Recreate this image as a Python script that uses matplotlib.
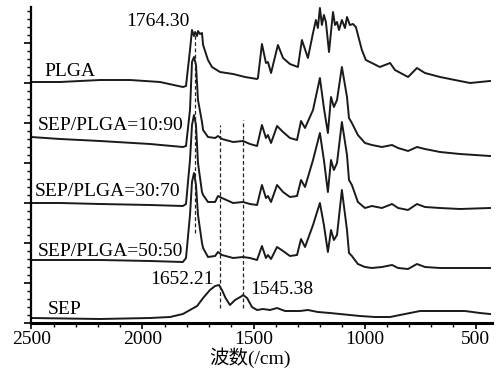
import numpy as np
import matplotlib.pyplot as plt
from matplotlib.ticker import MultipleLocator

plt.rcParams['font.family'] = ['Liberation Serif', 'Noto Sans CJK SC']

# 读取的光谱数据 (波数, 相对强度)
wn_plga = [2502, 2371, 2191, 2056, 1921, 1818, 1804, 1786, 1777, 1768, 1763, 1754, 1750, 1741,
           1732, 1727, 1705, 1687, 1651, 1592, 1538, 1484, 1480, 1462, 1444, 1435, 1421, 1399,
           1390, 1367, 1336, 1300, 1282, 1255, 1232, 1219, 1210, 1201, 1192, 1183, 1174, 1160,
           1142, 1133, 1124, 1115, 1102, 1088, 1079, 1066, 1052, 1039, 1012, 994, 967, 931,
           885, 863, 804, 764, 728, 660, 593, 525, 435]
ab_plga = [241, 241, 243, 243, 241, 236, 237, 273, 293, 287, 291, 287, 292, 289,
           290, 278, 263, 256, 251, 249, 246, 244, 245, 279, 260, 261, 250, 270,
           278, 265, 259, 256, 283, 265, 290, 303, 295, 315, 298, 308, 301, 271,
           311, 298, 301, 293, 303, 295, 306, 298, 299, 296, 273, 263, 260, 256,
           260, 253, 246, 255, 250, 246, 243, 240, 242]

wn_blend = [2502, 2371, 2191, 1966, 1818, 1804, 1786, 1777, 1768, 1759, 1750, 1732, 1727, 1705,
            1673, 1660, 1642, 1592, 1547, 1516, 1484, 1462, 1444, 1435, 1421, 1394, 1367, 1336,
            1304, 1286, 1268, 1232, 1201, 1183, 1165, 1151, 1138, 1124, 1102, 1079, 1070, 1057,
            1030, 998, 967, 922, 876, 849, 804, 764, 728, 660, 570, 435]
ab_10_90 = [186, 184, 182, 179, 176, 177, 213, 261, 266, 258, 223, 201, 193, 186,
            185, 187, 184, 181, 182, 179, 177, 198, 185, 188, 180, 197, 191, 185,
            183, 202, 195, 213, 245, 215, 190, 226, 216, 223, 256, 226, 205, 200,
            188, 180, 178, 176, 178, 175, 172, 176, 174, 171, 169, 167]
ab_30_70 = [120, 120, 119, 118, 117, 119, 163, 198, 208, 198, 160, 131, 128, 121,
            121, 127, 125, 120, 121, 119, 118, 138, 125, 127, 121, 138, 131, 126,
            127, 143, 136, 163, 190, 163, 131, 163, 153, 160, 201, 168, 143, 138,
            121, 115, 117, 115, 119, 115, 113, 119, 116, 115, 114, 115]
ab_50_50 = [63, 63, 63, 62, 61, 65, 108, 141, 150, 138, 108, 80, 75, 66,
            67, 71, 68, 65, 66, 65, 63, 77, 65, 68, 64, 76, 72, 67,
            68, 84, 76, 98, 120, 98, 71, 93, 83, 88, 133, 93, 70, 67,
            59, 56, 55, 56, 58, 55, 54, 59, 56, 55, 55, 55]

wn_sep = [2502, 2191, 1966, 1876, 1818, 1786, 1754, 1727, 1696, 1673, 1655, 1640, 1626, 1606,
          1583, 1552, 1547, 1529, 1507, 1484, 1457, 1426, 1394, 1358, 1291, 1255, 1210, 1156,
          1111, 1021, 953, 885, 840, 795, 750, 692, 615, 548, 480, 435]
ab_sep = [5, 4, 5, 6, 9, 13, 17, 25, 33, 37, 38, 32, 25, 18,
          23, 27, 28, 25, 16, 13, 14, 13, 15, 12, 12, 13, 11, 10,
          9, 7, 6, 6, 8, 10, 12, 12, 12, 12, 10, 9]

peak_marks = [1764.30, 1652.21, 1545.38]
mark_spans = [(90, 290), (15, 198), (15, 203)]

fig = plt.figure(figsize=(4.96, 3.72), dpi=100)
ax = fig.add_axes([31 / 496, 49 / 372, 461 / 496, 316 / 372])

for wn, ab in [(wn_plga, ab_plga), (wn_blend, ab_10_90), (wn_blend, ab_30_70),
               (wn_blend, ab_50_50), (wn_sep, ab_sep)]:
    ax.plot(wn, ab, color='#1a1a1a', lw=1.4, solid_joinstyle='round')

for w, (y0, y1) in zip(peak_marks, mark_spans):
    ax.vlines(w, y0, y1, colors='#222222', linestyles=(0, (3, 2)), lw=0.9)

fs = 14
ax.text(1930, 302, '1764.30', fontsize=fs, ha='center', va='center')
ax.text(2326, 251, 'PLGA', fontsize=fs, ha='center', va='center')
ax.text(2142, 198, 'SEP/PLGA=10:90', fontsize=fs, ha='center', va='center')
ax.text(2155, 131, 'SEP/PLGA=30:70', fontsize=fs, ha='center', va='center')
ax.text(2146, 72, 'SEP/PLGA=50:50', fontsize=fs, ha='center', va='center')
ax.text(1822, 44, '1652.21', fontsize=fs, ha='center', va='center')
ax.text(1372, 33, '1545.38', fontsize=fs, ha='center', va='center')
ax.text(2349, 13, 'SEP', fontsize=fs, ha='center', va='center')

ax.set_xlim(2502, 426)
ax.set_ylim(0, 316)
ax.set_xticks([2500, 2000, 1500, 1000, 500])
ax.xaxis.set_minor_locator(MultipleLocator(100))
ax.yaxis.set_major_locator(MultipleLocator(40))
ax.yaxis.set_minor_locator(MultipleLocator(8))
ax.set_yticklabels([])
ax.spines['top'].set_visible(False)
ax.spines['right'].set_visible(False)
ax.spines['bottom'].set_linewidth(2.2)
ax.spines['left'].set_linewidth(1.6)
ax.tick_params(axis='x', which='major', direction='out', length=4, width=1.2, labelsize=fs, pad=2)
ax.tick_params(axis='x', which='minor', direction='out', length=3, width=1)
ax.tick_params(axis='y', which='major', direction='out', length=5, width=1.2)
ax.tick_params(axis='y', which='minor', direction='out', length=3, width=1)
ax.set_xlabel('波数(/cm)', fontsize=fs, va='center')
ax.xaxis.set_label_coords(0.475, -0.11)

fig.savefig('out.png', dpi=100)
